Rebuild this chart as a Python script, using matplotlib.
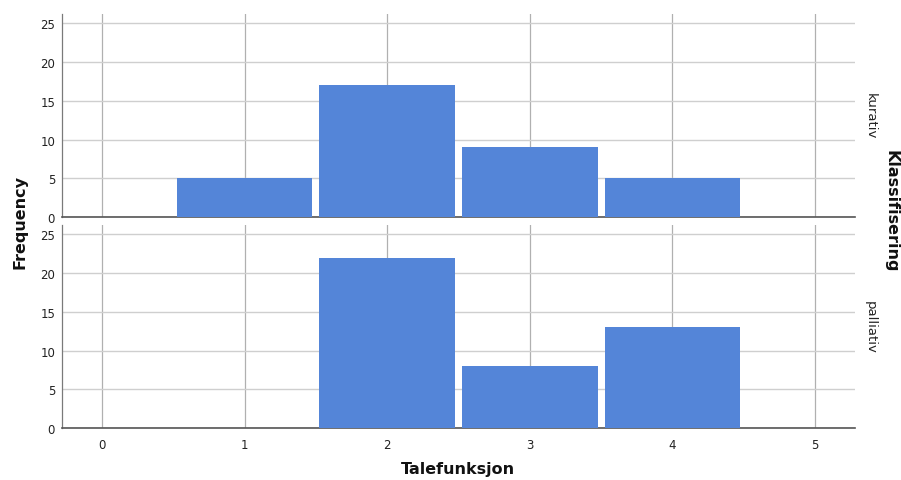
import matplotlib
matplotlib.use("Agg")
import matplotlib.pyplot as plt

categories = [0, 1, 2, 3, 4, 5]
panels = ["kurativ", "palliativ"]
kurativ = [0, 5, 17, 9, 5, 0]
palliativ = [0, 0, 22, 8, 13, 0]
series = [kurativ, palliativ]
yticks = [0, 5, 10, 15, 20, 25]

bar_color = "#5485d8"

fig = plt.figure(figsize=(9.01, 4.81), dpi=100)
left = 62 / 901
width = (855 - 62) / 901
h = 203 / 481
positions = [1 - 218 / 481, 1 - 429 / 481]

axes = []
for i, (name, vals) in enumerate(zip(panels, series)):
    ax = fig.add_axes([left, positions[i], width, h])
    axes.append(ax)
    xs = [c for c, v in zip(categories, vals) if v > 0]
    vs = [v for v in vals if v > 0]
    ax.bar(xs, vs, width=0.95, color=bar_color, zorder=3, linewidth=0)
    ax.set_xlim(-0.28, 5.28)
    ax.set_ylim(0, 26.2)
    ax.set_xticks(categories)
    ax.set_yticks(yticks)
    ax.grid(axis="y", color="#cfcfcf", linewidth=1.0, zorder=0)
    ax.grid(axis="x", color="#b0b0b0", linewidth=0.9, zorder=0)
    for s in ["top", "right"]:
        ax.spines[s].set_visible(False)
    ax.spines["left"].set_color("#7a7a7a")
    ax.spines["left"].set_linewidth(0.9)
    ax.spines["bottom"].set_color("#555555")
    ax.spines["bottom"].set_linewidth(1.2)
    ax.tick_params(axis="both", length=0, labelsize=8.5, colors="#222222", pad=4)
    ax.tick_params(axis="y", pad=5)
    if i == 0:
        ax.tick_params(axis="x", labelbottom=False)
    else:
        ax.tick_params(axis="x", pad=7)
    fig.text(870 / 901, 1 - ((15 + 218) / 2 + i * 211) / 481, name, rotation=270,
             ha="center", va="center", fontsize=9.5, color="#222222")

fig.text(20 / 901, 1 - 222 / 481, "Frequency", rotation=90, ha="center", va="center",
         fontsize=11.5, fontweight="bold", color="#111111")
fig.text(458 / 901, 1 - 470 / 481, "Talefunksjon", ha="center", va="center",
         fontsize=11.5, fontweight="bold", color="#111111")
fig.text(891 / 901, 1 - 211 / 481, "Klassifisering", rotation=270, ha="center", va="center",
         fontsize=11.5, fontweight="bold", color="#111111")

fig.savefig("out.png", dpi=100)
